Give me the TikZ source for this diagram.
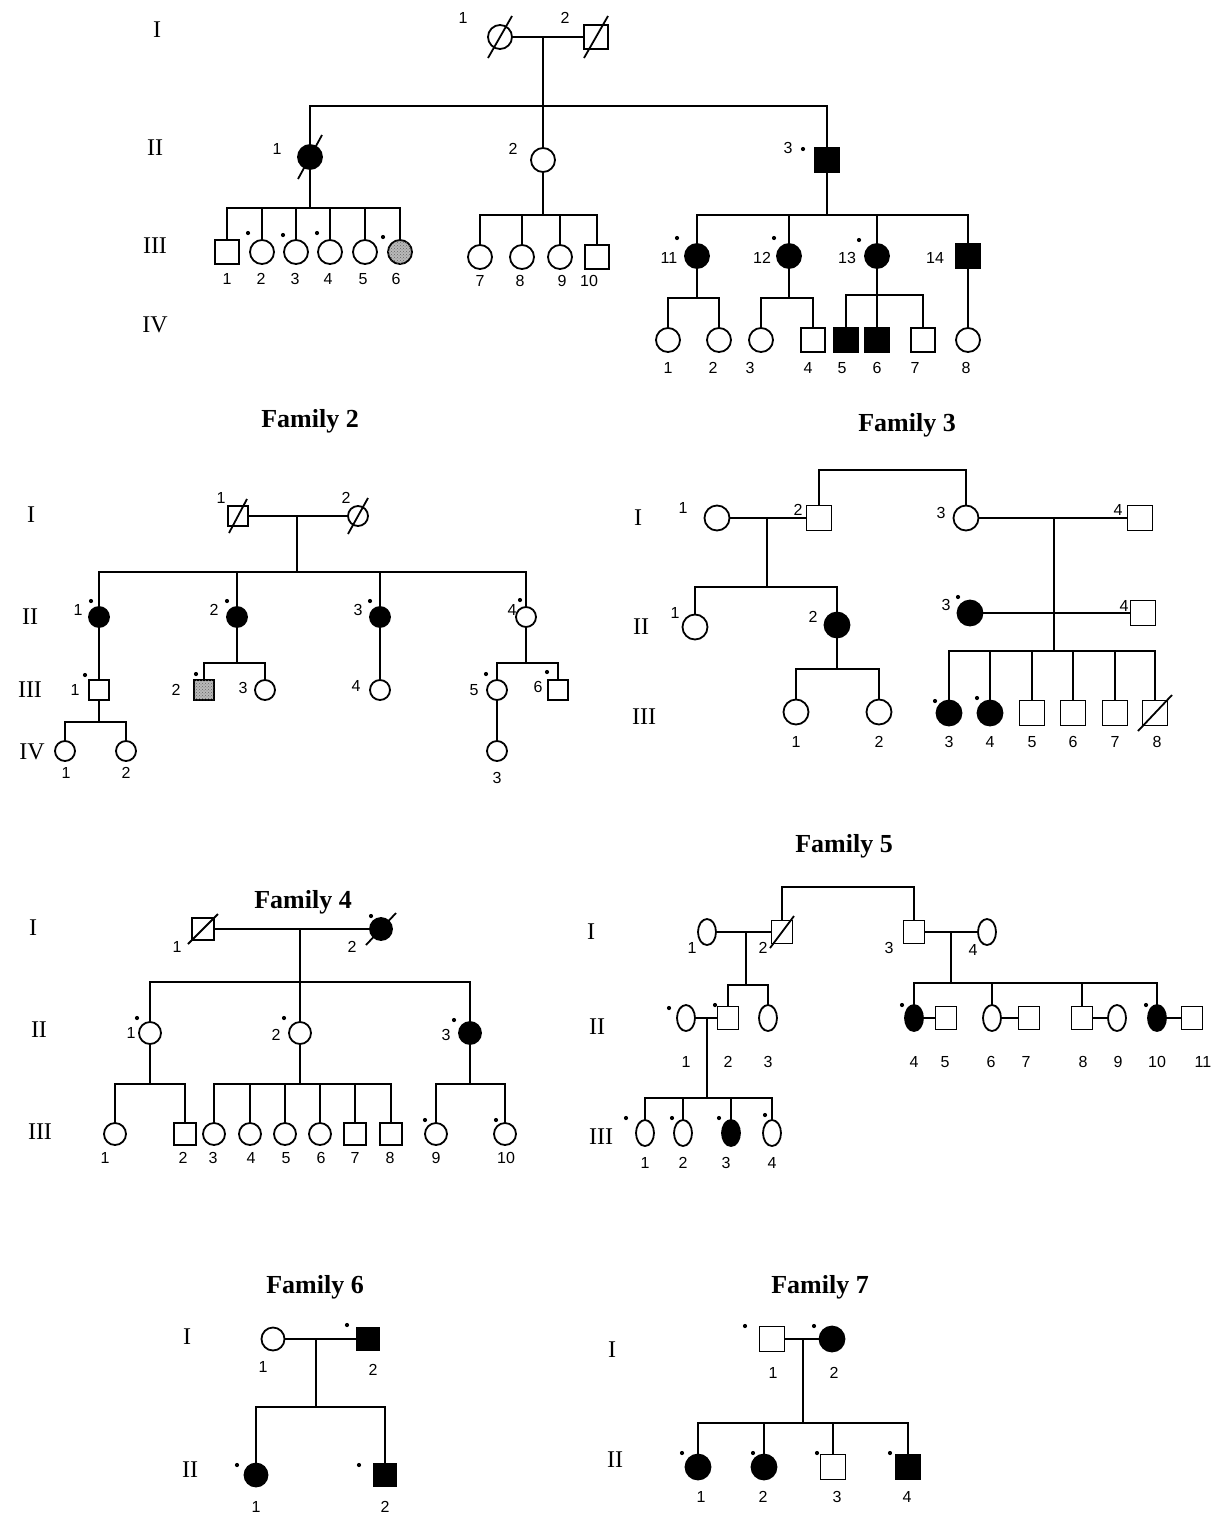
\documentclass[tikz,border=0pt]{standalone}
\usepackage{fontspec}
\setmainfont{Liberation Serif}
\newfontfamily\numfont{Liberation Sans}
\usetikzlibrary{shapes.geometric,patterns}

% pedigree symbols
\tikzset{
  fem/.style={circle, draw, minimum size=24pt},
  mal/.style={rectangle, draw, minimum size=24pt},
  aff/.style={fill=black},
  het/.style={fill=gray!55, postaction={pattern=crosshatch dots, pattern color=black!60}},
  num/.style={font=\numfont\fontsize{16}{16}\selectfont},
  gen/.style={font=\fontsize{24}{24}\selectfont},
  ttl/.style={font=\bfseries\fontsize{26}{26}\selectfont},
}
% deceased slash through a symbol
\newcommand\deadmark[3]{\draw (#1.center) ++({-(#2)},{#3}) -- ++({2*(#2)},{-2*(#3)});}
% individual number
\newcommand\lab[4]{\node[num] (#1) at (#2,#3) {#4};}
% small mark for tested individuals
\newcommand\pdot[2]{\fill (#1,#2) circle (2.1pt);}

\begin{document}
\begin{tikzpicture}[x=1pt,y=-1pt,line width=1.8pt,every node/.style={inner sep=0pt,outer sep=0pt}]
\useasboundingbox (0,0) rectangle (1220,1516);
\fill[white] (0,0) rectangle (1220,1516);

%================ Family 1 ================
\node[gen] (f1g1) at (157,30) {I};
\node[gen] (f1g2) at (155,148) {II};
\node[gen] (f1g3) at (155,246) {III};
\node[gen] (f1g4) at (155,325) {IV};

\node[fem] (a1) at (500,37) {}; \deadmark{a1}{12}{21}
\node[mal] (a2) at (596,37) {}; \deadmark{a2}{12}{21}
\lab{la1}{463}{18}{1} \lab{la2}{565}{18}{2}
\draw (a1) -- (a2);
\coordinate (a12) at (543,37);
\coordinate (a12s) at (543,106);
\node[fem,aff] (b1) at (310,157) {}; \deadmark{b1}{12}{22}
\node[fem] (b2) at (543,160) {};
\node[mal,aff] (b3) at (827,160) {};
\draw (a12) -- (b2);
\draw (b1.north) |- (a12s) -| (b3.north);
\lab{lb1}{277}{149}{1} \lab{lb2}{513}{149}{2} \lab{lb3}{788}{148}{3} \pdot{803}{149}

\coordinate (b1s) at (310,208);
\draw (b1) -- (b1s);
\node[mal] (c1) at (227,252) {};
\node[fem] (c2) at (262,252) {};
\node[fem] (c3) at (296,252) {};
\node[fem] (c4) at (330,252) {};
\node[fem] (c5) at (365,252) {};
\node[fem,het] (c6) at (400,252) {};
\draw (c1.north) |- (b1s) -| (c6.north);
\foreach \n in {c2,c3,c4,c5} \draw (\n.north) -- (\n.north |- b1s);
\lab{lc1}{227}{279}{1} \lab{lc2}{261}{279}{2} \lab{lc3}{295}{279}{3}
\lab{lc4}{328}{279}{4} \lab{lc5}{363}{279}{5} \lab{lc6}{396}{279}{6}
\pdot{248}{233} \pdot{283}{235} \pdot{317}{233} \pdot{383}{237}

\coordinate (b2s) at (543,215);
\draw (b2) -- (b2s);
\node[fem] (c7) at (480,257) {};
\node[fem] (c8) at (522,257) {};
\node[fem] (c9) at (560,257) {};
\node[mal] (c10) at (597,257) {};
\draw (c7.north) |- (b2s) -| (c10.north);
\foreach \n in {c8,c9} \draw (\n.north) -- (\n.north |- b2s);
\lab{lc7}{480}{281}{7} \lab{lc8}{520}{281}{8} \lab{lc9}{562}{281}{9} \lab{lc10}{589}{281}{10}

\coordinate (b3s) at (827,215);
\draw (b3) -- (b3s);
\node[fem,aff] (c11) at (697,256) {};
\node[fem,aff] (c12) at (789,256) {};
\node[fem,aff] (c13) at (877,256) {};
\node[mal,aff] (c14) at (968,256) {};
\draw (c11.north) |- (b3s) -| (c14.north);
\foreach \n in {c12,c13} \draw (\n.north) -- (\n.north |- b3s);
\lab{lc11}{669}{258}{11} \lab{lc12}{762}{258}{12} \lab{lc13}{847}{258}{13} \lab{lc14}{935}{258}{14}
\pdot{677}{238} \pdot{774}{238} \pdot{859}{240}

\coordinate (c11s) at (697,298);
\draw (c11) -- (c11s);
\node[fem] (d1) at (668,340) {};
\node[fem] (d2) at (719,340) {};
\draw (d1.north) |- (c11s) -| (d2.north);
\coordinate (c12s) at (789,298);
\draw (c12) -- (c12s);
\node[fem] (d3) at (761,340) {};
\node[mal] (d4) at (813,340) {};
\draw (d3.north) |- (c12s) -| (d4.north);
\coordinate (c13s) at (877,295);
\node[mal,aff] (d5) at (846,340) {};
\node[mal,aff] (d6) at (877,340) {};
\node[mal] (d7) at (923,340) {};
\draw (c13) -- (d6);
\draw (d5.north) |- (c13s) -| (d7.north);
\node[fem] (d8) at (968,340) {};
\draw (c14) -- (d8);
\lab{ld1}{668}{368}{1} \lab{ld2}{713}{368}{2} \lab{ld3}{750}{368}{3} \lab{ld4}{808}{368}{4}
\lab{ld5}{842}{368}{5} \lab{ld6}{877}{368}{6} \lab{ld7}{915}{368}{7} \lab{ld8}{966}{368}{8}

%================ Family 2 ================
\begin{scope}[fem/.style={circle,draw,minimum size=20pt}, mal/.style={rectangle,draw,minimum size=20pt}]
\node[ttl] (t2) at (310,421) {Family 2};
\node[gen] (f2g1) at (31,515) {I};
\node[gen] (f2g2) at (30,617) {II};
\node[gen] (f2g3) at (30,690) {III};
\node[gen] (f2g4) at (32,752) {IV};

\node[mal] (e1) at (238,516) {}; \deadmark{e1}{9}{17}
\node[fem] (e2) at (358,516) {}; \deadmark{e2}{10}{18}
\lab{le1}{221}{498}{1} \lab{le2}{346}{498}{2}
\draw (e1) -- (e2);
\coordinate (e12) at (297,516);
\coordinate (e12s) at (297,572);
\draw (e12) -- (e12s);
\node[fem,aff] (f1) at (99,617) {};
\node[fem,aff] (f2) at (237,617) {};
\node[fem,aff] (f3) at (380,617) {};
\node[fem] (f4) at (526,617) {};
\draw (f1.north) |- (e12s) -| (f4.north);
\foreach \n in {f2,f3} \draw (\n.north) -- (\n.north |- e12s);
\lab{lf1}{78}{610}{1} \lab{lf2}{214}{610}{2} \lab{lf3}{358}{610}{3} \lab{lf4}{512}{610}{4}
\pdot{91}{601} \pdot{227}{601} \pdot{370}{601} \pdot{520}{600}

\node[mal] (g1) at (99,690) {};
\draw (f1) -- (g1);
\coordinate (g1s) at (99,722);
\draw (g1) -- (g1s);
\node[fem] (h1) at (65,751) {};
\node[fem] (h2) at (126,751) {};
\draw (h1.north) |- (g1s) -| (h2.north);
\lab{lg1}{75}{690}{1} \pdot{85}{675}
\lab{lh1}{66}{773}{1} \lab{lh2}{126}{773}{2}

\coordinate (f2s) at (237,663);
\draw (f2) -- (f2s);
\node[mal,het] (g2) at (204,690) {};
\node[fem] (g3) at (265,690) {};
\draw (g2.north) |- (f2s) -| (g3.north);
\lab{lg2}{176}{690}{2} \pdot{196}{674} \lab{lg3}{243}{688}{3}

\node[fem] (g4) at (380,690) {};
\draw (f3) -- (g4);
\lab{lg4}{356}{686}{4}

\coordinate (f4s) at (526,663);
\draw (f4) -- (f4s);
\node[fem] (g5) at (497,690) {};
\node[mal] (g6) at (558,690) {};
\draw (g5.north) |- (f4s) -| (g6.north);
\lab{lg5}{474}{690}{5} \pdot{486}{674} \lab{lg6}{538}{687}{6} \pdot{547}{672}
\node[fem] (h3) at (497,751) {};
\draw (g5) -- (h3);
\lab{lh3}{497}{778}{3}
\end{scope}

%================ Family 3 ================
\begin{scope}[fem/.style={circle,draw,minimum size=25pt}, mal/.style={rectangle,draw,minimum size=25pt}]
\node[ttl] (t3) at (907,425) {Family 3};
\node[gen] (f3g1) at (638,518) {I};
\node[gen] (f3g2) at (641,627) {II};
\node[gen] (f3g3) at (644,717) {III};

\node[fem] (i1) at (717,518) {};
\node[mal] (i2) at (819,518) {};
\node[fem] (i3) at (966,518) {};
\node[mal] (i4) at (1140,518) {};
\lab{li1}{683}{508}{1} \lab{li2}{798}{510}{2} \lab{li3}{941}{513}{3} \lab{li4}{1118}{510}{4}
\draw (i1) -- (i2);
\coordinate (i12) at (767,518);
\coordinate (i12s) at (767,587);
\draw (i12) -- (i12s);
\coordinate (ibr) at (890,470);
\draw (i2.north) |- (ibr) -| (i3.north);
\draw (i3) -- (i4);
\coordinate (i34) at (1054,518);
\coordinate (i34s) at (1054,651);
\draw (i34) -- (i34s);

\node[fem] (j1) at (695,627) {};
\node[fem,aff] (j2) at (837,625) {};
\draw (j1.north) |- (i12s) -| (j2.north);
\lab{lj1}{675}{613}{1} \lab{lj2}{813}{617}{2}
\node[fem,aff] (j3) at (970,613) {};
\node[mal] (j4) at (1143,613) {};
\draw (j3) -- (j4);
\lab{lj3}{946}{605}{3} \pdot{958}{597} \lab{lj4}{1124}{606}{4}

\coordinate (j2s) at (837,669);
\draw (j2) -- (j2s);
\node[fem] (k1) at (796,712) {};
\node[fem] (k2) at (879,712) {};
\draw (k1.north) |- (j2s) -| (k2.north);
\node[fem,aff] (k3) at (949,713) {};
\node[fem,aff] (k4) at (990,713) {};
\node[mal] (k5) at (1032,713) {};
\node[mal] (k6) at (1073,713) {};
\node[mal] (k7) at (1115,713) {};
\node[mal] (k8) at (1155,713) {}; \deadmark{k8}{17}{18}
\draw (k3.north) |- (i34s) -| (k8.north);
\foreach \n in {k4,k5,k6,k7} \draw (\n.north) -- (\n.north |- i34s);
\pdot{935}{701} \pdot{977}{698}
\lab{lk1}{796}{742}{1} \lab{lk2}{879}{742}{2} \lab{lk3}{949}{742}{3} \lab{lk4}{990}{742}{4}
\lab{lk5}{1032}{742}{5} \lab{lk6}{1073}{742}{6} \lab{lk7}{1115}{742}{7} \lab{lk8}{1157}{742}{8}
\end{scope}

%================ Family 4 ================
\begin{scope}[fem/.style={circle,draw,minimum size=22pt}, mal/.style={rectangle,draw,minimum size=22pt}]
\node[ttl] (t4) at (303,902) {Family 4};
\node[gen] (f4g1) at (33,928) {I};
\node[gen] (f4g2) at (39,1030) {II};
\node[gen] (f4g3) at (40,1132) {III};

\node[mal] (m1) at (203,929) {}; \deadmark{m1}{15}{15}
\node[fem,aff] (m2) at (381,929) {}; \deadmark{m2}{15}{16}
\lab{lm1}{177}{947}{1} \lab{lm2}{352}{947}{2} \pdot{371}{916}
\draw (m1) -- (m2);
\coordinate (m12) at (300,929);
\coordinate (m12s) at (300,982);
\node[fem] (n1) at (150,1033) {};
\node[fem] (n2) at (300,1033) {};
\node[fem,aff] (n3) at (470,1033) {};
\draw (m12) -- (n2);
\draw (n1.north) |- (m12s) -| (n3.north);
\lab{ln1}{131}{1033}{1} \pdot{137}{1018}
\lab{ln2}{276}{1035}{2} \pdot{284}{1018}
\lab{ln3}{446}{1035}{3} \pdot{454}{1020}

\coordinate (n1s) at (150,1084);
\draw (n1) -- (n1s);
\node[fem] (p1) at (115,1134) {};
\node[mal] (p2) at (185,1134) {};
\draw (p1.north) |- (n1s) -| (p2.north);
\coordinate (n2s) at (300,1084);
\draw (n2) -- (n2s);
\node[fem] (p3) at (214,1134) {};
\node[fem] (p4) at (250,1134) {};
\node[fem] (p5) at (285,1134) {};
\node[fem] (p6) at (320,1134) {};
\node[mal] (p7) at (355,1134) {};
\node[mal] (p8) at (391,1134) {};
\draw (p3.north) |- (n2s) -| (p8.north);
\foreach \n in {p4,p5,p6,p7} \draw (\n.north) -- (\n.north |- n2s);
\coordinate (n3s) at (470,1084);
\draw (n3) -- (n3s);
\node[fem] (p9) at (436,1134) {};
\node[fem] (p10) at (505,1134) {};
\draw (p9.north) |- (n3s) -| (p10.north);
\pdot{425}{1120} \pdot{496}{1120}
\lab{lp1}{105}{1158}{1} \lab{lp2}{183}{1158}{2} \lab{lp3}{213}{1158}{3} \lab{lp4}{251}{1158}{4}
\lab{lp5}{286}{1158}{5} \lab{lp6}{321}{1158}{6} \lab{lp7}{355}{1158}{7} \lab{lp8}{390}{1158}{8}
\lab{lp9}{436}{1158}{9} \lab{lp10}{506}{1158}{10}
\end{scope}

%================ Family 5 ================
\begin{scope}[fem/.style={ellipse,draw,minimum width=18pt,minimum height=26pt}, mal/.style={rectangle,draw,minimum width=21pt,minimum height=23pt}]
\node[ttl] (t5) at (844,846) {Family 5};
\node[gen] (f5g1) at (591,932) {I};
\node[gen] (f5g2) at (597,1027) {II};
\node[gen] (f5g3) at (601,1137) {III};

\node[fem] (q1) at (707,932) {};
\node[mal] (q2) at (782,932) {}; \deadmark{q2}{12}{16}
\node[mal] (q3) at (914,932) {};
\node[fem] (q4) at (987,932) {};
\lab{lq1}{692}{948}{1} \lab{lq2}{763}{948}{2} \lab{lq3}{889}{948}{3} \lab{lq4}{973}{950}{4}
\draw (q1) -- (q2);
\coordinate (q12) at (746,932);
\coordinate (q12s) at (746,985);
\draw (q12) -- (q12s);
\coordinate (qbr) at (848,887);
\draw (q2.north) |- (qbr) -| (q3.north);
\draw (q3) -- (q4);
\coordinate (q34) at (951,932);
\coordinate (q34s) at (951,983);
\draw (q34) -- (q34s);

\node[fem] (r1) at (686,1018) {};
\node[mal] (r2) at (728,1018) {};
\node[fem] (r3) at (768,1018) {};
\draw (r1) -- (r2);
\draw (r2.north) |- (q12s) -| (r3.north);
\pdot{669}{1008} \pdot{715}{1005}
\node[fem,aff] (r4) at (914,1018) {};
\node[mal] (r5) at (946,1018) {};
\node[fem] (r6) at (992,1018) {};
\node[mal] (r7) at (1029,1018) {};
\node[mal] (r8) at (1082,1018) {};
\node[fem] (r9) at (1117,1018) {};
\node[fem,aff] (r10) at (1157,1018) {};
\node[mal] (r11) at (1192,1018) {};
\draw (r4) -- (r5); \draw (r6) -- (r7); \draw (r8) -- (r9); \draw (r10) -- (r11);
\draw (r4.north) |- (q34s) -| (r10.north);
\foreach \n in {r6,r8} \draw (\n.north) -- (\n.north |- q34s);
\pdot{902}{1005} \pdot{1146}{1005}
\lab{lr1}{686}{1062}{1} \lab{lr2}{728}{1062}{2} \lab{lr3}{768}{1062}{3}
\lab{lr4}{914}{1062}{4} \lab{lr5}{945}{1062}{5} \lab{lr6}{991}{1062}{6} \lab{lr7}{1026}{1062}{7}
\lab{lr8}{1083}{1062}{8} \lab{lr9}{1118}{1062}{9} \lab{lr10}{1157}{1062}{10} \lab{lr11}{1203}{1062}{11}

\coordinate (r12) at (707,1018);
\coordinate (r12s) at (707,1098);
\draw (r12) -- (r12s);
\node[fem] (s1) at (645,1133) {};
\node[fem] (s2) at (683,1133) {};
\node[fem,aff] (s3) at (731,1133) {};
\node[fem] (s4) at (772,1133) {};
\draw (s1.north) |- (r12s) -| (s4.north);
\foreach \n in {s2,s3} \draw (\n.north) -- (\n.north |- r12s);
\pdot{626}{1118} \pdot{672}{1118} \pdot{719}{1118} \pdot{765}{1115}
\lab{ls1}{645}{1163}{1} \lab{ls2}{683}{1163}{2} \lab{ls3}{726}{1163}{3} \lab{ls4}{772}{1163}{4}
\end{scope}

%================ Family 6 ================
\begin{scope}[fem/.style={circle,draw,minimum size=23pt}, mal/.style={rectangle,draw,minimum size=23pt}]
\node[ttl] (t6) at (315,1287) {Family 6};
\node[gen] (f6g1) at (187,1337) {I};
\node[gen] (f6g2) at (190,1470) {II};
\node[fem] (t61) at (273,1339) {};
\node[mal,aff] (t62) at (368,1339) {};
\draw (t61) -- (t62);
\lab{lt61}{263}{1367}{1} \lab{lt62}{373}{1370}{2} \pdot{347}{1325}
\coordinate (t612) at (316,1339);
\coordinate (t612s) at (316,1407);
\draw (t612) -- (t612s);
\node[fem,aff] (u1) at (256,1475) {};
\node[mal,aff] (u2) at (385,1475) {};
\draw (u1.north) |- (t612s) -| (u2.north);
\pdot{237}{1465} \pdot{359}{1465}
\lab{lu1}{256}{1507}{1} \lab{lu2}{385}{1507}{2}
\end{scope}

%================ Family 7 ================
\begin{scope}[fem/.style={circle,draw,minimum size=25pt}, mal/.style={rectangle,draw,minimum size=25pt}]
\node[ttl] (t7) at (820,1287) {Family 7};
\node[gen] (f7g1) at (612,1350) {I};
\node[gen] (f7g2) at (615,1460) {II};
\node[mal] (v1) at (772,1339) {};
\node[fem,aff] (v2) at (832,1339) {};
\draw (v1) -- (v2);
\pdot{745}{1326} \pdot{814}{1326}
\lab{lv1}{773}{1373}{1} \lab{lv2}{834}{1373}{2}
\coordinate (v12) at (803,1339);
\coordinate (v12s) at (803,1423);
\draw (v12) -- (v12s);
\node[fem,aff] (w1) at (698,1467) {};
\node[fem,aff] (w2) at (764,1467) {};
\node[mal] (w3) at (833,1467) {};
\node[mal,aff] (w4) at (908,1467) {};
\draw (w1.north) |- (v12s) -| (w4.north);
\foreach \n in {w2,w3} \draw (\n.north) -- (\n.north |- v12s);
\pdot{682}{1453} \pdot{753}{1453} \pdot{817}{1453} \pdot{890}{1453}
\lab{lw1}{701}{1497}{1} \lab{lw2}{763}{1497}{2} \lab{lw3}{837}{1497}{3} \lab{lw4}{907}{1497}{4}
\end{scope}

\end{tikzpicture}
\end{document}
